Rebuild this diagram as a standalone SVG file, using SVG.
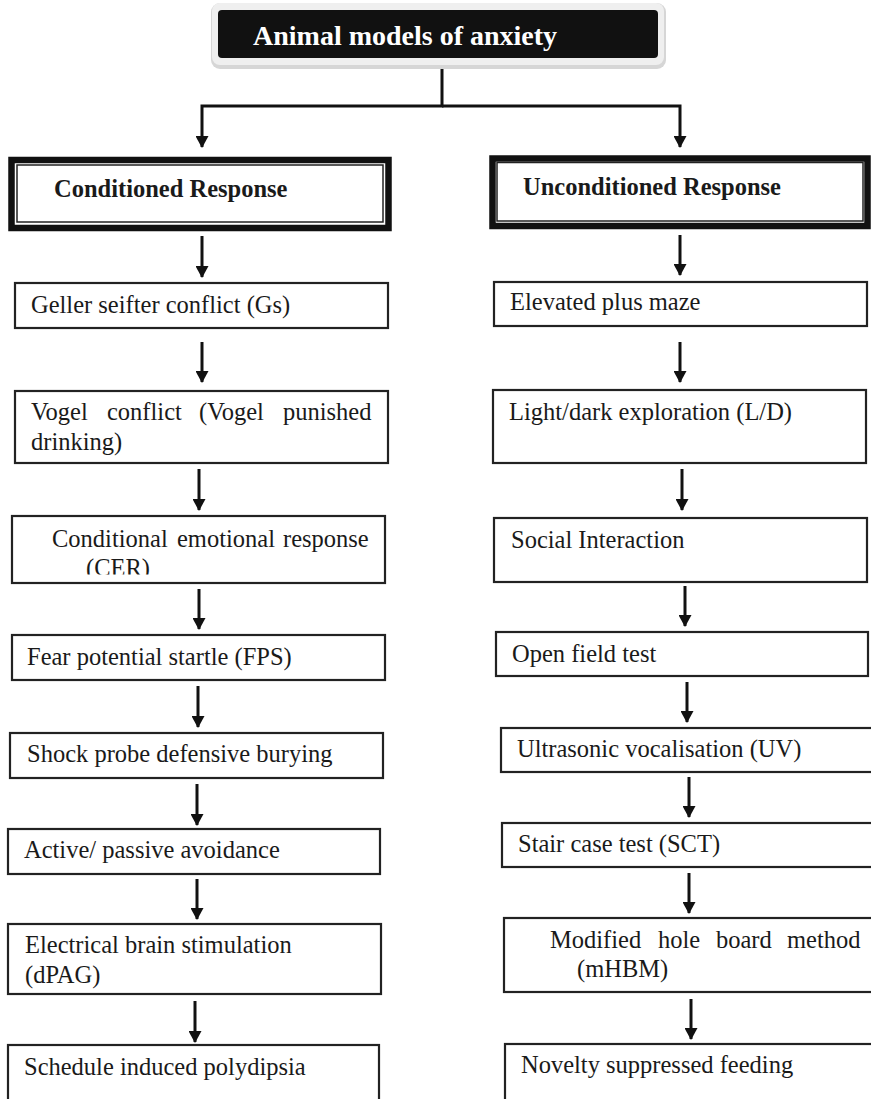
<svg xmlns="http://www.w3.org/2000/svg" width="871" height="1099" viewBox="0 0 871 1099">
<style>
.t{font-family:"Liberation Serif","Times New Roman",serif;font-size:24.5px;fill:#1a1a1a}
.b{font-family:"Liberation Serif","Times New Roman",serif;font-size:24.5px;font-weight:bold;fill:#1a1a1a}
.title{font-family:"Liberation Serif","Times New Roman",serif;font-size:28px;font-weight:bold;fill:#ffffff}
.box{fill:#ffffff;stroke:#222;stroke-width:2.2}
.thick{fill:#ffffff;stroke:#111;stroke-width:6.5}
.thin{fill:none;stroke:#222;stroke-width:1.5}
.c{fill:none;stroke:#111;stroke-width:3;marker-end:url(#ah)}
</style>
<defs>
<marker id="ah" viewBox="0 0 12 13" markerUnits="userSpaceOnUse" markerWidth="12" markerHeight="13" refX="11" refY="6.5" orient="auto">
<path d="M0,0 L12,6.5 L0,13 z" fill="#111"/>
</marker>
<clipPath id="cerclip"><rect x="0" y="500" width="440" height="74.5"/></clipPath>
</defs>
<rect width="871" height="1099" fill="#ffffff"/>

<g id="connectors">
<path class="c" d="M442,62 V106 H202 V147"/>
<path class="c" d="M442,106 H680 V147"/>
<path class="c" d="M202,236 V277"/>
<path class="c" d="M202,342 V382"/>
<path class="c" d="M199,469 V510"/>
<path class="c" d="M199,589 V629"/>
<path class="c" d="M198,686 V727"/>
<path class="c" d="M197,784 V825"/>
<path class="c" d="M197,879 V919"/>
<path class="c" d="M195,1001 V1042"/>
<path class="c" d="M680,235 V275"/>
<path class="c" d="M680,342 V382"/>
<path class="c" d="M682,469 V510"/>
<path class="c" d="M685,586 V626"/>
<path class="c" d="M687,682 V722"/>
<path class="c" d="M689,777 V817"/>
<path class="c" d="M689,873 V913"/>
<path class="c" d="M691,999 V1039"/>
</g>

<g id="root">
<rect x="211" y="3" width="455" height="66" rx="9" fill="#d6d6d6"/>
<rect x="212" y="3" width="452" height="62" rx="8" fill="#efefef"/>
<rect x="218" y="10" width="440" height="48" rx="4" fill="#111"/>
<text class="title" x="253" y="45">Animal models of anxiety</text>
</g>

<g id="conditioned">
<rect class="thick" x="11.5" y="160" width="377" height="68"/>
<rect class="thin" x="17" y="165" width="366" height="57"/>
<text class="b" x="54" y="197">Conditioned Response</text>
</g>
<g id="unconditioned">
<rect class="thick" x="492.5" y="158.5" width="375" height="67.5"/>
<rect class="thin" x="497" y="162.5" width="366" height="58.5"/>
<text class="b" x="523" y="195">Unconditioned Response</text>
</g>

<g id="geller"><rect class="box" x="15" y="283" width="373" height="45"/><text class="t" x="31" y="313">Geller seifter conflict (Gs)</text></g>
<g id="vogel"><rect class="box" x="15" y="391" width="373" height="72"/>
<text class="t" y="420"><tspan x="31">Vogel</tspan><tspan x="107">conflict</tspan><tspan x="199">(Vogel</tspan><tspan x="283">punished</tspan></text>
<text class="t" x="31" y="450">drinking)</text></g>
<g id="cer"><rect class="box" x="12" y="516" width="373" height="67"/>
<text class="t" y="547"><tspan x="52">Conditional</tspan><tspan x="177">emotional</tspan><tspan x="283">response</tspan></text>
<text class="t" x="86" y="576" clip-path="url(#cerclip)">(CER)</text></g>
<g id="fps"><rect class="box" x="12" y="635" width="373" height="45"/><text class="t" x="27" y="665">Fear potential startle (FPS)</text></g>
<g id="shock"><rect class="box" x="10" y="733" width="373" height="45"/><text class="t" x="27" y="762">Shock probe defensive burying</text></g>
<g id="active"><rect class="box" x="8" y="829" width="372" height="45"/><text class="t" x="24" y="858">Active/ passive avoidance</text></g>
<g id="ebs"><rect class="box" x="8" y="924" width="373" height="70"/><text class="t" x="25" y="953">Electrical brain stimulation</text><text class="t" x="25" y="983">(dPAG)</text></g>
<g id="sip"><rect class="box" x="8" y="1045" width="371" height="80"/><text class="t" x="24" y="1075">Schedule induced polydipsia</text></g>

<g id="epm"><rect class="box" x="494" y="282" width="373" height="44"/><text class="t" x="510" y="310">Elevated plus maze</text></g>
<g id="ld"><rect class="box" x="493" y="390" width="373" height="73"/><text class="t" x="509" y="420">Light/dark exploration (L/D)</text></g>
<g id="social"><rect class="box" x="494" y="518" width="373" height="64"/><text class="t" x="511" y="548">Social Interaction</text></g>
<g id="open"><rect class="box" x="496" y="632" width="372" height="44"/><text class="t" x="512" y="662">Open field test</text></g>
<g id="uv"><rect class="box" x="501" y="728" width="380" height="44"/><text class="t" x="517" y="757">Ultrasonic vocalisation (UV)</text></g>
<g id="sct"><rect class="box" x="502" y="823" width="380" height="44"/><text class="t" x="518" y="852">Stair case test (SCT)</text></g>
<g id="mhbm"><rect class="box" x="504" y="918" width="380" height="74"/>
<text class="t" y="948"><tspan x="550">Modified</tspan><tspan x="658">hole</tspan><tspan x="716">board</tspan><tspan x="787">method</tspan></text>
<text class="t" x="577" y="977">(mHBM)</text></g>
<g id="nsf"><rect class="box" x="505" y="1044" width="380" height="80"/><text class="t" x="521" y="1073">Novelty suppressed feeding</text></g>
</svg>
